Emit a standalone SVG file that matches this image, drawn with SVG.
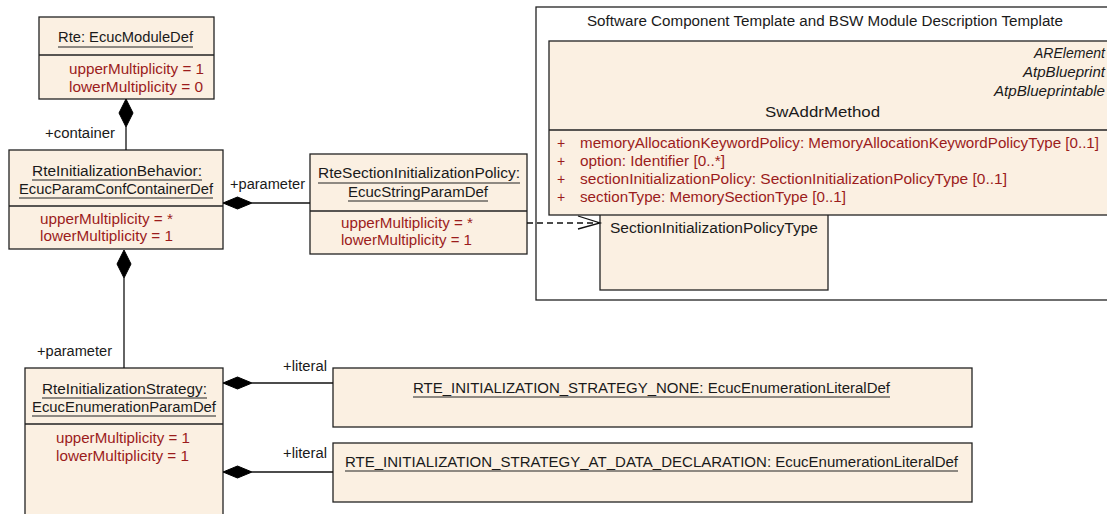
<svg xmlns="http://www.w3.org/2000/svg" width="1107" height="514" viewBox="0 0 1107 514">
<style>
text{font-family:"Liberation Sans",Arial,sans-serif;font-size:14px;fill:#1a1a1a}
.attr{fill:#9b1c1c}
.it{font-style:italic}
.box{fill:#fbf0e2;stroke:#222;stroke-width:1.3}
.div{stroke:#222;stroke-width:1.3}
.ul{stroke:#222;stroke-width:1.2}
.ln{stroke:#111;stroke-width:1.3;fill:none}
.dia{fill:#000;stroke:#000}
</style>
<rect width="1107" height="514" fill="#fff"/>
<g id="package">
<rect x="536" y="7" width="590" height="293" fill="#fff" stroke="#222" stroke-width="1.3"/>
<text x="587" y="26" textLength="476" lengthAdjust="spacingAndGlyphs">Software Component Template and BSW Module Description Template</text>
</g>
<g id="SectionInitializationPolicyType">
<rect class="box" x="600" y="200" width="228" height="90"/>
<text x="610" y="233" textLength="208" lengthAdjust="spacingAndGlyphs">SectionInitializationPolicyType</text>
</g>
<g id="SwAddrMethod">
<rect class="box" x="549" y="41" width="580" height="174"/>
<text class="it" x="1034" y="58" textLength="71" lengthAdjust="spacingAndGlyphs">ARElement</text>
<text class="it" x="1023" y="77" textLength="82" lengthAdjust="spacingAndGlyphs">AtpBlueprint</text>
<text class="it" x="994" y="96" textLength="111" lengthAdjust="spacingAndGlyphs">AtpBlueprintable</text>
<text x="765" y="117" textLength="115" lengthAdjust="spacingAndGlyphs">SwAddrMethod</text>
<line class="div" x1="549" y1="130" x2="1107" y2="130"/>
<text class="attr" x="557" y="148">+</text>
<text class="attr" x="580" y="148" textLength="519" lengthAdjust="spacingAndGlyphs">memoryAllocationKeywordPolicy: MemoryAllocationKeywordPolicyType [0..1]</text>
<text class="attr" x="557" y="166">+</text>
<text class="attr" x="580" y="166" textLength="145" lengthAdjust="spacingAndGlyphs">option: Identifier [0..*]</text>
<text class="attr" x="557" y="184">+</text>
<text class="attr" x="580" y="184" textLength="427" lengthAdjust="spacingAndGlyphs">sectionInitializationPolicy: SectionInitializationPolicyType [0..1]</text>
<text class="attr" x="557" y="202">+</text>
<text class="attr" x="580" y="202" textLength="266" lengthAdjust="spacingAndGlyphs">sectionType: MemorySectionType [0..1]</text>
</g>
<g id="Rte">
<rect class="box" x="39" y="17" width="175" height="82"/>
<text x="58" y="42" textLength="135" lengthAdjust="spacingAndGlyphs">Rte: EcucModuleDef</text>
<line class="ul" x1="58" y1="47" x2="193" y2="47"/>
<line class="div" x1="39" y1="55" x2="214" y2="55"/>
<text class="attr" x="69" y="74" textLength="135" lengthAdjust="spacingAndGlyphs">upperMultiplicity = 1</text>
<text class="attr" x="69" y="92" textLength="134" lengthAdjust="spacingAndGlyphs">lowerMultiplicity = 0</text>
</g>
<g id="RteInitializationBehavior">
<rect class="box" x="9" y="150" width="214" height="99"/>
<text x="32" y="176" textLength="170" lengthAdjust="spacingAndGlyphs">RteInitializationBehavior:</text>
<line class="ul" x1="32" y1="180" x2="202" y2="180"/>
<text x="19" y="194" textLength="194" lengthAdjust="spacingAndGlyphs">EcucParamConfContainerDef</text>
<line class="ul" x1="19" y1="198" x2="213" y2="198"/>
<line class="div" x1="9" y1="206" x2="223" y2="206"/>
<text class="attr" x="40" y="224" textLength="133" lengthAdjust="spacingAndGlyphs">upperMultiplicity = *</text>
<text class="attr" x="40" y="241" textLength="133" lengthAdjust="spacingAndGlyphs">lowerMultiplicity = 1</text>
</g>
<g id="RteSectionInitializationPolicy">
<rect class="box" x="310" y="154" width="217" height="100"/>
<text x="318" y="178" textLength="202" lengthAdjust="spacingAndGlyphs">RteSectionInitializationPolicy:</text>
<line class="ul" x1="318" y1="183" x2="520" y2="183"/>
<text x="348" y="197" textLength="140" lengthAdjust="spacingAndGlyphs">EcucStringParamDef</text>
<line class="ul" x1="348" y1="201" x2="488" y2="201"/>
<line class="div" x1="310" y1="211" x2="527" y2="211"/>
<text class="attr" x="341" y="228" textLength="132" lengthAdjust="spacingAndGlyphs">upperMultiplicity = *</text>
<text class="attr" x="341" y="245" textLength="131" lengthAdjust="spacingAndGlyphs">lowerMultiplicity = 1</text>
</g>
<g id="RteInitializationStrategy">
<rect class="box" x="25" y="368" width="198" height="160"/>
<text x="42" y="394" textLength="165" lengthAdjust="spacingAndGlyphs">RteInitializationStrategy:</text>
<line class="ul" x1="42" y1="398" x2="207" y2="398"/>
<text x="32" y="412" textLength="184" lengthAdjust="spacingAndGlyphs">EcucEnumerationParamDef</text>
<line class="ul" x1="32" y1="416" x2="216" y2="416"/>
<line class="div" x1="25" y1="424" x2="223" y2="424"/>
<text class="attr" x="56" y="443" textLength="134" lengthAdjust="spacingAndGlyphs">upperMultiplicity = 1</text>
<text class="attr" x="56" y="461" textLength="133" lengthAdjust="spacingAndGlyphs">lowerMultiplicity = 1</text>
</g>
<g id="LiteralNone">
<rect class="box" x="333" y="368" width="639" height="59"/>
<text x="413" y="393" textLength="477" lengthAdjust="spacingAndGlyphs">RTE_INITIALIZATION_STRATEGY_NONE: EcucEnumerationLiteralDef</text>
<line class="ul" x1="413" y1="397" x2="890" y2="397"/>
</g>
<g id="LiteralAtDataDeclaration">
<rect class="box" x="333" y="443" width="639" height="59"/>
<text x="345" y="467" textLength="613" lengthAdjust="spacingAndGlyphs">RTE_INITIALIZATION_STRATEGY_AT_DATA_DECLARATION: EcucEnumerationLiteralDef</text>
<line class="ul" x1="345" y1="471" x2="958" y2="471"/>
</g>
<g id="connectors">
<line class="ln" x1="126" y1="127" x2="126" y2="150"/>
<polygon class="dia" points="126,99 133,113 126,127 119,113"/>
<text x="45" y="138" textLength="70" lengthAdjust="spacingAndGlyphs">+container</text>
<line class="ln" x1="252" y1="203" x2="310" y2="203"/>
<polygon class="dia" points="223,203 237.5,197 252,203 237.5,209"/>
<text x="230" y="189" textLength="75" lengthAdjust="spacingAndGlyphs">+parameter</text>
<line class="ln" x1="124" y1="278" x2="124" y2="368"/>
<polygon class="dia" points="124,250 131,264 124,278 117,264"/>
<text x="37" y="356" textLength="75" lengthAdjust="spacingAndGlyphs">+parameter</text>
<line class="ln" x1="252" y1="383" x2="333" y2="383"/>
<polygon class="dia" points="223,383 237.5,377 252,383 237.5,389"/>
<text x="283" y="371" textLength="44" lengthAdjust="spacingAndGlyphs">+literal</text>
<line class="ln" x1="252" y1="472" x2="333" y2="472"/>
<polygon class="dia" points="223,472 237.5,466 252,472 237.5,478"/>
<text x="283" y="458" textLength="44" lengthAdjust="spacingAndGlyphs">+literal</text>
<line class="ln" x1="527" y1="223" x2="599" y2="223" stroke-dasharray="6,4"/>
<polyline class="ln" points="578,216 600,223 578,229"/>
</g>
</svg>
